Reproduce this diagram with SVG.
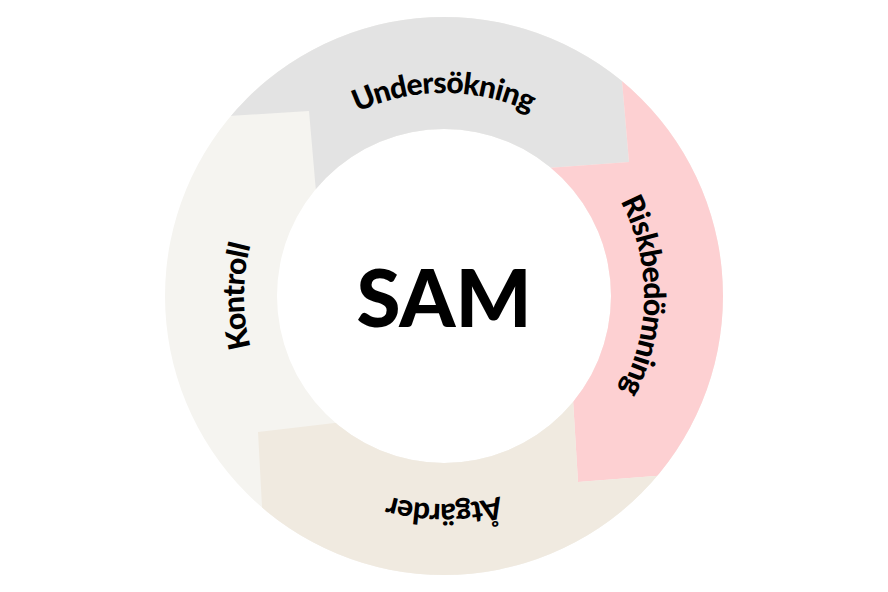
<svg xmlns="http://www.w3.org/2000/svg" width="888" height="592" viewBox="0 0 888 592">
<style>
.lbl{font-family:Lato,"Noto Sans",sans-serif;font-weight:900;font-size:30px;fill:#000;dominant-baseline:central}
</style>
<defs>
<clipPath id="ring"><path clip-rule="evenodd" d="M165,296a279,279 0 1 0 558,0a279,279 0 1 0 -558,0ZM277,296a167,167 0 1 0 334,0a167,167 0 1 0 -334,0Z"/></clipPath>
<path id="pTop" d="M444,511A215,215 0 0 1 444,81A215,215 0 0 1 444,511"/>
<path id="pRight" d="M232,296A212,212 0 0 1 656,296A212,212 0 0 1 232,296"/>
<path id="pBot" d="M444,76A220,220 0 0 1 444,516A220,220 0 0 1 444,76"/>
<path id="pLeft" d="M656,296A212,212 0 0 1 232,296A212,212 0 0 1 656,296"/>
</defs>
<rect width="888" height="592" fill="#fff"/>
<g clip-path="url(#ring)">
<g id="kontroll"><rect x="0" y="0" width="888" height="592" fill="#f5f4f0"/></g>
<g id="undersokning"><polygon fill="#e3e3e3" points="318,215 309,111 150,121 150,0 615,0 629,162 520,170"/></g>
<g id="riskbedomning"><polygon fill="#fdd0d2" points="520,170 629,162 615,0 760,0 760,468 578,482 570,350"/></g>
<g id="atgarder"><polygon fill="#f0eae0" points="570,350 578,482 760,468 760,600 267,600 258,432 360,420"/></g>
</g>
<g id="labels">
<text class="lbl"><textPath href="#pTop" startOffset="50%" text-anchor="middle">Undersökning</textPath></text>
<text class="lbl"><textPath href="#pRight" startOffset="50%" text-anchor="middle">Riskbedömning</textPath></text>
<text class="lbl"><textPath href="#pBot" startOffset="50%" text-anchor="middle">Åtgärder</textPath></text>
<text class="lbl"><textPath href="#pLeft" startOffset="50%" text-anchor="middle">Kontroll</textPath></text>
</g>
<g id="center"><text x="444" y="296" font-family="Lato,'Noto Sans',sans-serif" font-weight="900" font-size="80" text-anchor="middle" dominant-baseline="central">SAM</text></g>
<g id="connectors"/>
</svg>
